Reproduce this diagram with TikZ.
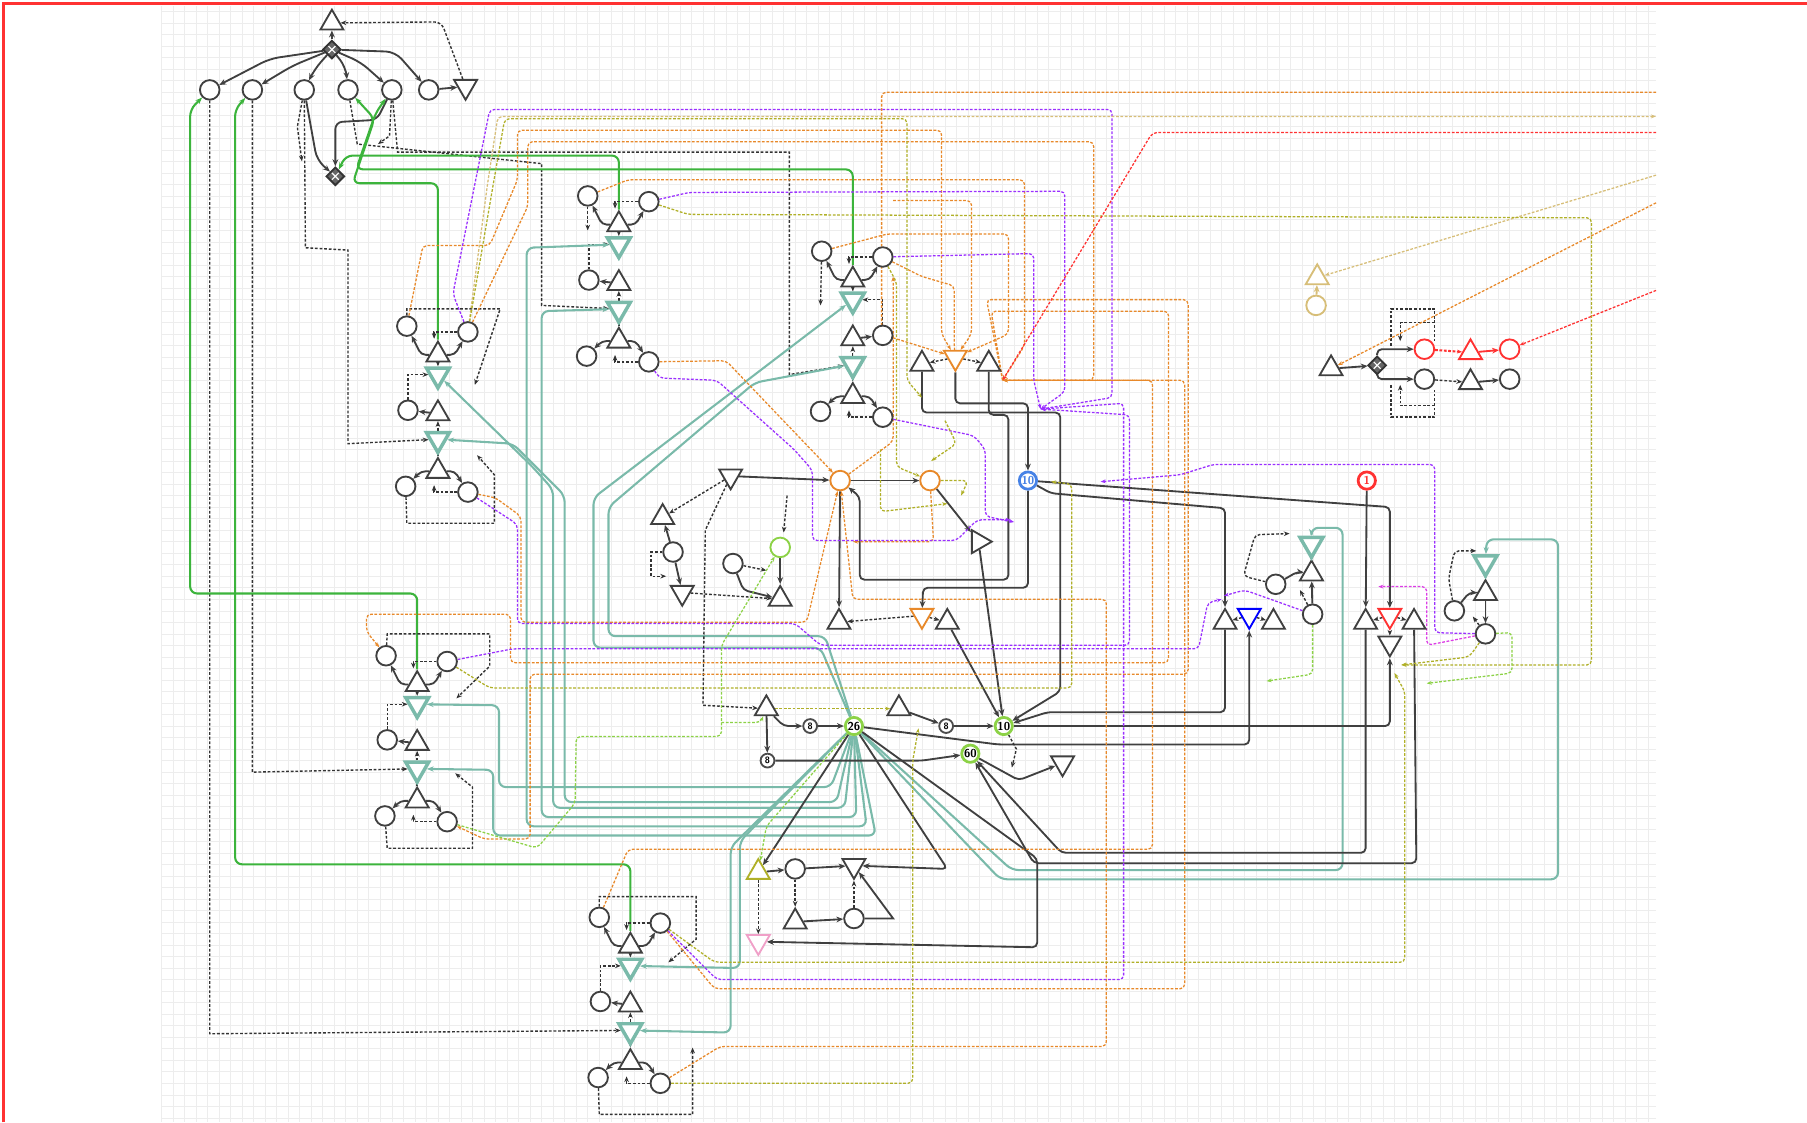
\documentclass[tikz,border=0pt]{standalone}
\usepackage{tikz}
\usetikzlibrary{positioning, calc, shapes.geometric, arrows.meta, backgrounds}
\definecolor{tealc}{RGB}{122,186,170}
\definecolor{greenc}{RGB}{60,180,60}
\definecolor{orangec}{RGB}{232,137,42}
\definecolor{purplec}{RGB}{155,48,255}
\definecolor{olivec}{RGB}{176,176,40}
\definecolor{limec}{RGB}{140,210,70}
\definecolor{redc}{RGB}{255,50,50}
\definecolor{tanc}{RGB}{215,190,120}
\definecolor{bluec}{RGB}{70,130,230}
\definecolor{pinkc}{RGB}{240,160,200}
\definecolor{magc}{RGB}{220,60,230}
\tikzset{
	place/.style={circle, draw=black!75, thick, fill=white, minimum size=8.5pt, inner sep=0pt},
	trans/.style={regular polygon, regular polygon sides=3, draw=black!75, thick, fill=white, minimum size=11.5pt, inner sep=0pt, yshift=-1.45pt},
	transdown/.style={trans, shape border rotate=180, yshift=2.9pt},
	tealtrans/.style={transdown, draw=tealc, line width=1.5pt},
	junction/.style={diamond, draw=black!80, thick, fill=black!60, minimum size=8pt, inner sep=0pt,
		path picture={\draw[white, line width=0.5pt]
			([shift={(-1.5pt,-1.5pt)}]path picture bounding box.center) -- ([shift={(1.5pt,1.5pt)}]path picture bounding box.center)
			([shift={(-1.5pt,1.5pt)}]path picture bounding box.center) -- ([shift={(1.5pt,-1.5pt)}]path picture bounding box.center);}},
	counter/.style={circle, draw=limec, line width=1.2pt, fill=white, minimum size=7.5pt, inner sep=0pt, font=\fontsize{5}{5}\selectfont\sffamily\bfseries},
	tally/.style={circle, draw=black!70, thick, fill=white, minimum size=6pt, inner sep=0pt, font=\fontsize{4}{4}\selectfont\sffamily\bfseries}
}
\tikzset{
	flow/.style={draw=black!75, line width=0.8pt, -{Stealth[length=3pt,width=2.5pt]}},
	dflow/.style={draw=black!80, line width=0.6pt, dash pattern=on 1.2pt off 0.8pt, -{Stealth[length=2.5pt,width=2pt]}},
	dbox/.style={draw=black!80, line width=0.6pt, dash pattern=on 1.2pt off 0.8pt},
	tealflow/.style={draw=tealc, line width=0.9pt, rounded corners=3pt, -{Stealth[length=3pt]}},
	greenflow/.style={draw=greenc, line width=0.9pt, rounded corners=3pt, -{Stealth[length=3pt]}},
	colflow/.style={line width=0.55pt, dash pattern=on 1.2pt off 0.7pt, rounded corners=2pt, -{Stealth[length=2.2pt]}},
	orangeflow/.style={colflow, draw=orangec},
	purpleflow/.style={colflow, draw=purplec},
	oliveflow/.style={colflow, draw=olivec},
	limeflow/.style={colflow, draw=limec},
	redflow/.style={colflow, draw=redc},
	tanflow/.style={colflow, draw=tanc},
	gridline/.style={draw=black!7, line width=0.25pt}
}
% one merge block: two inputs, trigger, two teal gates, two outputs
\newcommand{\netmodule}[4]{%
  \begin{scope}[shift={(#2,#3)}]
    \node[trans] (#1t1) at (0,0) {};
    \node[place] (#1c1) at (-27,-22) {};
    \node[place] (#1c2) at (26,-17) {};
    \node[tealtrans] (#1d1) at (0,23) {};
    \node[place] (#1c3) at (#4*26,51) {};
    \node[trans] (#1t2) at (0,51) {};
    \node[tealtrans] (#1d2) at (0,79) {};
    \node[trans] (#1t3) at (0,101) {};
    \node[place] (#1c4) at (-28,117) {};
    \node[place] (#1c5) at (26,122) {};
  \end{scope}}
\newcommand{\moduleflows}[1]{%
  \draw[flow, rounded corners=2pt] (#1t1.west) -- ++(-7,0) -- (#1c1);
  \draw[flow, rounded corners=2pt] (#1t1.east) -- ++(7,0) -- (#1c2);
  \draw[dflow] (#1c2.west) -- ++(-20,0) -- ++(0,6);
  \draw[dflow] (#1t1) -- (#1d1);
  \draw[flow] (#1t2) -- (#1c3);
  \draw[dflow] (#1c3.north) |- (#1d1);
  \draw[dflow] (#1d2) -- (#1t2);
  \draw[dflow] (#1d2) -- (#1t3);
  \draw[flow, rounded corners=2pt] (#1t3.west) -- ++(-7,0) -- (#1c4);
  \draw[flow, rounded corners=2pt] (#1t3.east) -- ++(7,0) -- (#1c5);
  \draw[dflow] (#1c5.west) -- ++(-20,0) -- ++(0,-6);}

\begin{document}
\begin{tikzpicture}[x=0.5pt, y=-0.5pt]
  \useasboundingbox (0,0) rectangle (1568,974);

  % top fan
  \node[trans] (topt) at (288,17) {};
  \node[junction] (topj) at (288,43) {};
  \foreach \px [count=\i] in {182,219,264,302,340,372}
    \node[place] (p\i) at (\px,78) {};
  \node[transdown] (topd) at (404,78) {};
  \node[junction] (midj) at (291,153) {};

  % merge blocks
  \netmodule{a}{380}{305}{-1}
  \netmodule{b}{537}{192}{-1}
  \netmodule{c}{740}{240}{1}
  \netmodule{d}{362}{591}{-1}
  \netmodule{e}{547}{818}{-1}

  % centre
  \node[transdown] (dtc) at (634,416) {};
  \node[place, draw=orangec] (oc1) at (729,417) {};
  \node[place, draw=orangec] (oc2) at (807,417) {};
  \node[counter, draw=bluec, text=bluec] (b10) at (892,417) {10};
  \node[counter, draw=redc, text=redc] (r1) at (1186,417) {1};
  \node[trans] (tril) at (575,446) {};
  \node[place] (circl) at (584,479) {};
  \node[transdown] (dtl) at (592,517) {};
  \node[place] (circm) at (636,489) {};
  \node[place, draw=limec] (gc) at (677,475) {};
  \node[trans] (trim) at (677,517) {};
  \node[trans, shape border rotate=-90, yshift=1.45pt, xshift=-1.45pt] (tris) at (852,470) {};
  \node[trans] (ttl) at (800,313) {};
  \node[transdown, draw=orangec] (odt) at (829,313) {};
  \node[trans] (ttr) at (858,313) {};
  \node[trans] (tra) at (728,537) {};
  \node[transdown, draw=orangec] (odt2) at (800,537) {};
  \node[trans] (trb) at (822,537) {};

  % right side
  \node[trans] (tbl) at (1063,537) {};
  \node[transdown, draw=blue] (bdt) at (1084,537) {};
  \node[trans] (tbr) at (1105,537) {};
  \node[place] (rca) at (1139,533) {};
  \node[place] (rcb) at (1107,507) {};
  \node[trans] (trq) at (1138,495) {};
  \node[tealtrans] (rd1) at (1138,475) {};
  \node[trans] (tr2) at (1185,537) {};
  \node[transdown, draw=redc] (rdt) at (1206,537) {};
  \node[trans] (tr3) at (1227,537) {};
  \node[transdown] (dtr4) at (1206,561) {};
  \node[place] (rc1) at (1262,530) {};
  \node[place] (rc2) at (1289,550) {};
  \node[trans] (trp) at (1289,512) {};
  \node[tealtrans] (rd2) at (1289,491) {};

  % far right
  \node[trans, draw=tanc] (tant) at (1143,238) {};
  \node[place, draw=tanc] (tanp) at (1142,265) {};
  \node[trans] (trf) at (1155,317) {};
  \node[junction] (jf) at (1195,317) {};
  \node[place, draw=redc] (frc1) at (1236,303) {};
  \node[trans, draw=redc] (frt1) at (1276,303) {};
  \node[place, draw=redc] (frc2) at (1310,303) {};
  \node[place] (frc3) at (1236,329) {};
  \node[trans] (frt2) at (1276,329) {};
  \node[place] (frc4) at (1310,329) {};

  % counters
  \node[trans] (tle) at (665,612) {};
  \node[tally] (e1) at (703,630) {8};
  \node[counter] (n26) at (741,630) {26};
  \node[trans] (tlf) at (780,612) {};
  \node[tally] (e2) at (821,630) {8};
  \node[counter] (g10) at (871,630) {10};
  \node[tally] (e3) at (666,660) {8};
  \node[counter] (g60) at (842,654) {60};
  \node[transdown] (dtg) at (922,665) {};

  % bottom block
  \node[trans, draw=olivec] (olt) at (658,754) {};
  \node[place] (bmc1) at (690,754) {};
  \node[transdown] (bmdt) at (741,754) {};
  \node[trans] (bmt2) at (690,797) {};
  \node[place] (bmc2) at (741,797) {};
  \node[transdown, draw=pinkc] (pinkd) at (658,820) {};

  % free ends at the right border
  \coordinate (ed80) at (1437,80);
  \coordinate (ed101) at (1437,101);
  \coordinate (ed115) at (1437,115);
  \coordinate (ed152) at (1437,152);
  \coordinate (ed176) at (1437,176);
  \coordinate (ed252) at (1437,252);
  \coordinate (ojoin) at (870,330);
  \coordinate (pjoin) at (903,355);

  \begin{scope}[on background layer]
    \fill[white] (0,0) rectangle (1568,974);
    \foreach \gx in {140,150,...,1430} \draw[gridline] (\gx,5) -- (\gx,974);
    \foreach \gy in {10,20,...,970} \draw[gridline] (140,\gy) -- (1437,\gy);
    \draw[redc, line width=1.2pt] (3,974) -- (3,3) -- (1568,3);
  \end{scope}

  \begin{scope}[on background layer]
    % top fan
    \draw[flow] (topj) -- (topt);
    \draw[flow, rounded corners=4pt] (topj) -- (234,51) -- (p1);
    \draw[flow, rounded corners=4pt] (topj) -- (254,57) -- (p2);
    \draw[flow, rounded corners=4pt] (topj) -- (273,60) -- (p3);
    \draw[flow, rounded corners=4pt] (topj) -- (300,58) -- (p4);
    \draw[flow, rounded corners=4pt] (topj) -- (313,54) -- (p5);
    \draw[flow, rounded corners=4pt] (topj) -- (343,45) -- (p6);
    \draw[flow] (p6) -- (topd);
    \draw[dflow, rounded corners=3pt] (topd) -- (383,19) -- (topt);
    \draw[flow, rounded corners=4pt] (p3) -- (275,139) -- (midj);
    \draw[flow, rounded corners=3pt] (p5) -- (327,104) -- (291,106) -- (midj);
    \draw[dflow] (p1) -- (182,897) -- (ed2);
    \draw[dflow] (p2) -- (219,670) -- (dd2);
    \draw[dflow] (p3) -- (265,215) -- (302,217) -- (302,385) -- (ad2);
    \draw[dflow] (p5) -- (345,132) -- (685,132) -- (685,325) -- (cd2);
    \draw[dflow] (p4) -- (310,125) -- (470,142) -- (470,265) -- (bd2);
    \draw[dflow] (p3) -- (258,110) -- (262,140);
    \draw[dflow] (p5) -- (338,118) -- (328,125);

    % green feeds
    \draw[greenflow] (dt1) -- (362,515) -- (165,515) -- (165,95) -- (p1);
    \draw[greenflow] (et1) -- (547,750) -- (204,750) -- (204,95) -- (p2);
    \draw[greenflow] (at1) -- (380,159) -- (306,159) -- (325,103) -- (p4);
    \draw[greenflow] (bt1) -- (537,135) -- (300,135) -- (midj);
    \draw[greenflow] (ct1) -- (740,147) -- (309,147) -- (326,98) -- (p5);

    % merge blocks inside
    \moduleflows{a}
    \moduleflows{b}
    \moduleflows{c}
    \moduleflows{d}
    \moduleflows{e}
    \draw[dflow] (bc1) -- (510,200);
    \draw[dflow] (cc1) -- (712,265);
    \draw[dflow] (ac1) -- (353,268) -- (434,268) -- (412,334);
    \draw[dflow] (ac4) -- (353,454) -- (429,454) -- (429,412) -- (414,395);
    \draw[dflow] (dc1) -- (336,550) -- (425,550) -- (425,578) -- (396,606);
    \draw[dflow] (dc4) -- (336,736) -- (410,736) -- (410,683) -- (395,671);
    \draw[dflow] (ec1) -- (520,778) -- (604,778) -- (604,815) -- (580,835);
    \draw[dflow] (ec4) -- (520,967) -- (601,967) -- (601,909);

    % teal gates fed from 26
    \draw[tealflow] (n26) -- (752,717) -- (457,717) -- (457,215) -- (bd1);
    \draw[tealflow] (n26) -- (743,709) -- (470,709) -- (470,270) -- (bd2);
    \draw[tealflow] (n26) -- (733,701) -- (480,701) -- (480,425) -- (462,405) -- (ad1);
    \draw[tealflow] (n26) -- (726,696) -- (490,696) -- (490,430) -- (445,385) -- (ad2);
    \draw[tealflow] (n26) -- (712,562) -- (515,562) -- (515,432) -- (cd1);
    \draw[tealflow] (n26) -- (716,552) -- (528,552) -- (528,440) -- (655,332) -- (cd2);
    \draw[tealflow] (n26) -- (721,683) -- (433,683) -- (433,612) -- (dd1);
    \draw[tealflow] (n26) -- (760,725) -- (428,725) -- (428,668) -- (dd2);
    \draw[tealflow] (n26) -- (642,730) -- (642,840) -- (ed1);
    \draw[tealflow] (n26) -- (634,735) -- (634,896) -- (ed2);
    \draw[tealflow] (n26) -- (878,755) -- (1165,755) -- (1165,458) -- (1138,458) -- (rd1);
    \draw[tealflow] (n26) -- (868,763) -- (1352,763) -- (1352,468) -- (1290,468) -- (rd2);

    % counters
    \draw[flow, rounded corners=2pt] (tle) -- (680,630) -- (e1);
    \draw[flow] (e1) -- (n26);
    \draw[flow] (tle) -- (e3);
    \draw[flow, rounded corners=2pt] (e3) -- (800,660) -- (g60);
    \draw[flow] (tlf) -- (e2);
    \draw[flow] (e2) -- (g10);
    \draw[flow, rounded corners=2pt] (g60) -- (884,677) -- (dtg);
    \draw[flow, rounded corners=2pt] (tr2) -- (1185,740) -- (921,740) -- (g60);
    \draw[flow, rounded corners=2pt] (tr3) -- (1229,749) -- (897,749) -- (g60);
    \draw[flow, rounded corners=2pt] (n26) -- (866,646) -- (1084,646) -- (bdt);
    \draw[flow, rounded corners=2pt] (tbl) -- (1063,618) -- (909,618) -- (g10);
    \draw[flow, rounded corners=2pt] (g10) -- (1206,630) -- (dtr4);
    \draw[flow] (n26) -- (olt);
    \draw[flow, rounded corners=2pt] (n26) -- (822,754) -- (bmdt);
    \draw[flow, rounded corners=2pt] (n26) -- (900,745) -- (900,822) -- (pinkd);
    \draw[flow] (r1) -- (tr2);
    \draw[dflow] (g10) -- (882,650) -- (878,666);

    % bottom block
    \draw[flow] (olt) -- (bmc1);
    \draw[flow] (bmc1) -- (bmdt);
    \draw[dflow] (bmc1) -- (bmt2);
    \draw[flow] (bmt2) -- (bmc2);
    \draw[flow] (bmc2) -- (775,797) -- (bmdt);
    \draw[dflow] (bmc2) -- (bmdt);
    \draw[dflow] (olt) -- (pinkd);

    % centre flows
    \draw[flow] (dtc) -- (oc1);
    \draw[flow] (oc1) -- (oc2);
    \draw[flow] (oc2) -- (tris);
    \draw[flow] (tris) -- (g10);
    \draw[flow] (oc1) -- (tra);
    \draw[flow] (trb) -- (g10);
    \draw[dflow] (odt2) -- (tra);
    \draw[dflow] (odt2) -- (trb);
    \draw[dflow] (odt) -- (ttl);
    \draw[dflow] (odt) -- (ttr);
    \draw[flow, rounded corners=2pt] (ttr) -- (858,360) -- (875,360) -- (875,503) -- (746,503) -- (746,431) -- (oc1);
    \draw[flow, rounded corners=2pt] (odt) -- (829,350) -- (892,350) -- (b10);
    \draw[flow, rounded corners=2pt] (b10) -- (892,510) -- (801,510) -- (odt2);
    \draw[flow, rounded corners=2pt] (ttl) -- (800,358) -- (920,358) -- (920,600) -- (g10);
    \draw[flow, rounded corners=2pt] (b10) -- (1206,440) -- (rdt);
    \draw[flow, rounded corners=2pt] (b10) -- (912,428) -- (1063,441) -- (tbl);
    \draw[flow] (circl) -- (tril);
    \draw[flow] (circl) -- (dtl);
    \draw[dflow] (dtl) -- (trim);
    \draw[dflow] (dtc) -- (tril);
    \draw[flow, rounded corners=2pt] (circm) -- (645,512) -- (trim);
    \draw[flow] (gc) -- (trim);
    \draw[dflow] (dtc) -- (612,460) -- (610,612) -- (tle);
    \draw[dflow] (circl) -- (565,479) -- (565,500) -- (578,500);
    \draw[dflow] (circm) -- (665,495);
    \draw[dflow] (683,430) -- (680,462);

    % right flows
    \draw[dflow] (bdt) -- (tbl);
    \draw[dflow] (bdt) -- (tbr);
    \draw[dflow] (rdt) -- (tr2);
    \draw[dflow] (rdt) -- (tr3);
    \draw[dflow] (rdt) -- (dtr4);
    \draw[flow] (rca) -- (trq);
    \draw[flow, rounded corners=2pt] (rcb) -- (1126,496) -- (trq);
    \draw[dflow] (trq) -- (rd1);
    \draw[dflow, rounded corners=2pt] (rcb) -- (1079,500) -- (1089,464) -- (1119,463);
    \draw[flow, rounded corners=2pt] (rc1) -- (1275,514) -- (trp);
    \draw[flow] (trp) -- (rc2);
    \draw[dflow] (trp) -- (rd2);
    \draw[dflow, rounded corners=2pt] (rc1) -- (1257,502) -- (1262,478) -- (1281,478);
    \draw[dflow] (rca) -- (1128,512);
    \draw[dflow] (rc2) -- (1278,535);

    % far right
    \draw[flow, draw=tanc] (tanp) -- (tant);
    \draw[flow] (trf) -- (jf);
    \draw[flow, rounded corners=2pt] (jf) |- (frc1);
    \draw[flow, rounded corners=2pt] (jf) |- (frc3);
    \draw[redflow, line width=0.9pt] (frc1) -- (frt1);
    \draw[flow, draw=redc] (frt1) -- (frc2);
    \draw[dflow] (frc3) -- (frt2);
    \draw[flow] (frt2) -- (frc4);
    \draw[dbox] (1207,300) -- (1207,268) -- (1245,268) -- (1245,296);
    \draw[dflow] (1245,280) -- (1215,280) -- (1215,296);
    \draw[dbox] (1207,334) -- (1207,362) -- (1245,362) -- (1245,338);
    \draw[dflow] (1245,352) -- (1215,352) -- (1215,334);

    % orange
    \draw[orangeflow] (ed80) -- (765,80) -- (765,290) -- (odt);
    \draw[orangeflow] (ac1) -- (367,213) -- (425,213) -- (449,156) -- (449,113) -- (817,113) -- (817,290) -- (odt);
    \draw[orangeflow] (ac2) -- (458,179) -- (458,123) -- (949,123) -- (949,330) -- (ojoin);
    \draw[orangeflow] (bc1) -- (545,156) -- (889,156) -- (889,300) -- (ojoin);
    \draw[orangeflow] (cc1) -- (770,203) -- (875,203) -- (875,290) -- (odt);
    \draw[orangeflow] (cc2) -- (800,240) -- (828,248) -- (828,300) -- (odt);
    \draw[orangeflow] (775,174) -- (843,174) -- (843,290) -- (odt);
    \draw[orangeflow] (ojoin) -- (856,260) -- (1031,260) -- (1031,585) -- (460,585) -- (460,728) -- (420,728) -- (dc5);
    \draw[orangeflow] (ojoin) -- (860,270) -- (1014,270) -- (1014,575) -- (443,575) -- (443,533) -- (318,533) -- (318,548) -- (dc1);
    \draw[orangeflow] (bc5) -- (630,313) -- (718,405) -- (oc1);
    \draw[orangeflow] (ac5) -- (430,432) -- (452,448) -- (452,540) -- (700,540) -- (oc1);
    \draw[orangeflow] (ec2) -- (620,858) -- (1028,858) -- (1028,330) -- (ojoin);
    \draw[orangeflow] (ec1) -- (545,737) -- (1000,737) -- (1000,330) -- (ojoin);
    \draw[orangeflow] (ec5) -- (625,908) -- (960,908) -- (960,520) -- (740,520) -- (oc1);
    \draw[orangeflow] (ed176) -- (trf);
    \draw[orangeflow] (oc1) -- (775,383) -- (775,240);
    \draw[orangeflow] (oc2) -- (810,470) -- (740,470);

    % purple
    \draw[purpleflow] (ac2) -- (393,255) -- (425,95) -- (965,95) -- (965,345) -- (pjoin);
    \draw[purpleflow] (bc2) -- (598,167) -- (924,166) -- (924,340) -- (pjoin);
    \draw[purpleflow] (cc2) -- (897,220) -- (897,330) -- (pjoin);
    \draw[purpleflow] (cc5) -- (845,378) -- (855,390) -- (855,448) -- (880,453);
    \draw[purpleflow] (bc5) -- (572,328) -- (622,330) -- (689,390) -- (705,408) -- (705,469) -- (830,469) -- (848,451) -- (877,451);
    \draw[purpleflow] (ac5) -- (449,455) -- (449,541) -- (690,541) -- (712,560) -- (980,560) -- (980,360) -- (pjoin);
    \draw[purpleflow] (dc2) -- (445,563) -- (1040,563) -- (1048,523) -- (1060,520);
    \draw[purpleflow] (ec2) -- (622,850) -- (975,850) -- (975,350) -- (pjoin);
    \draw[purpleflow] (rca) -- (1080,512) -- (1062,517);
    \draw[purpleflow] (rc2) -- (1245,549) -- (1245,403) -- (1053,403) -- (1024,412) -- (955,418);
    \draw[colflow, draw=magc] (rc2) -- (1238,560) -- (1238,509) -- (1196,509);

    % olive, tan, lime
    \draw[tanflow] (ac2) -- (423,160) -- (432,101) -- (ed101);
    \draw[tanflow] (ed152) -- (tant);
    \draw[oliveflow] (ac2) -- (428,160) -- (438,103) -- (787,103) -- (787,330) -- (800,345);
    \draw[oliveflow] (bc2) -- (597,186) -- (1381,189) -- (1381,577) -- (1216,577);
    \draw[oliveflow] (rc2) -- (1275,570) -- (1216,577);
    \draw[oliveflow] (ec2) -- (620,835) -- (1219,835) -- (1219,600) -- (1210,584);
    \draw[oliveflow] (cc2) -- (778,245) -- (778,405) -- (oc2);
    \draw[oliveflow] (dc2) -- (425,597) -- (930,597) -- (930,420) -- (912,418);
    \draw[oliveflow] (ec5) -- (792,940) -- (792,660) -- (797,632);
    \draw[oliveflow] (tle) -- (tlf);
    \draw[oliveflow] (oc2) -- (840,417) -- (834,430);
    \draw[oliveflow] (764,390) -- (764,444) -- (822,437);
    \draw[oliveflow] (820,365) -- (830,385) -- (808,400);
    \draw[limeflow] (dc5) -- (466,736) -- (499,697) -- (500,639) -- (626,639) -- (626,560) -- (gc);
    \draw[limeflow] (n26) -- (665,717) -- (olt);
    \draw[limeflow] (626,627) -- (660,627) -- (tle);
    \draw[limeflow] (rca) -- (1139,585) -- (1099,591);
    \draw[limeflow] (rc2) -- (1312,549) -- (1312,584) -- (1238,593);

    % red
    \draw[redflow] (ed115) -- (1000,115) -- (ojoin);
    \draw[redflow] (ed252) -- (frc2);
  \end{scope}
\end{tikzpicture}
\end{document}
